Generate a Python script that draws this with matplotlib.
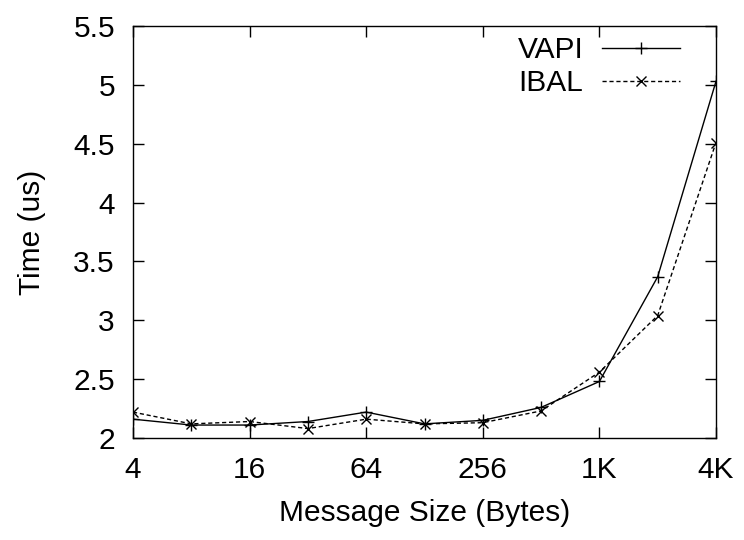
import matplotlib
matplotlib.use("Agg")
import matplotlib.pyplot as plt

# message sizes (bytes) and latency in us
sizes = [4, 8, 16, 32, 64, 128, 256, 512, 1024, 2048, 4096]
vapi = [2.16, 2.11, 2.11, 2.14, 2.22, 2.12, 2.15, 2.26, 2.48, 3.37, 5.03]
ibal = [2.22, 2.12, 2.14, 2.08, 2.16, 2.12, 2.13, 2.23, 2.56, 3.04, 4.51]
xticks = [4, 16, 64, 256, 1024, 4096]
xticklabels = ["4", "16", "64", "256", "1K", "4K"]
yticks = [2, 2.5, 3, 3.5, 4, 4.5, 5, 5.5]

plt.rcParams['font.family'] = ['Liberation Sans', 'DejaVu Sans']
fs = 21.5

fig = plt.figure(figsize=(7.44, 5.4), dpi=100)
ax = fig.add_axes([133/744, 1 - 438/540, (716-133)/744, (438-26)/540])

ax.plot(sizes, vapi, color='black', linestyle='-', linewidth=1.0,
        marker='+', markersize=8, markeredgewidth=1.0, label='VAPI')
ax.plot(sizes, ibal, color='black', linestyle=(0, (3, 2)), linewidth=1.0,
        marker='x', markersize=6.5, markeredgewidth=1.0, label='IBAL')

ax.set_xscale('log', base=2)
ax.set_xlim(4, 4096)
ax.set_ylim(2, 5.5)
ax.set_xticks(xticks)
ax.set_xticklabels(xticklabels)
ax.minorticks_off()
ax.set_yticks(yticks)
ax.set_yticklabels(["2", "2.5", "3", "3.5", "4", "4.5", "5", "5.5"])
ax.tick_params(direction='in', length=8, width=1, labelsize=fs,
               top=True, right=True)
ax.tick_params(axis='x', pad=13)
ax.tick_params(axis='y', pad=13)

ax.set_xlabel("Message Size (Bytes)", fontsize=fs, labelpad=11)
ax.set_ylabel("Time (us)", fontsize=fs, labelpad=20)

for s in ax.spines.values():
    s.set_linewidth(1.0)

ax.legend(loc='upper right', bbox_to_anchor=(0.938, 0.975), frameon=False,
          fontsize=fs, markerfirst=False, handlelength=2.6,
          handletextpad=0.63, borderpad=0, borderaxespad=0,
          labelspacing=0.17)

fig.savefig("out.png", dpi=100)
